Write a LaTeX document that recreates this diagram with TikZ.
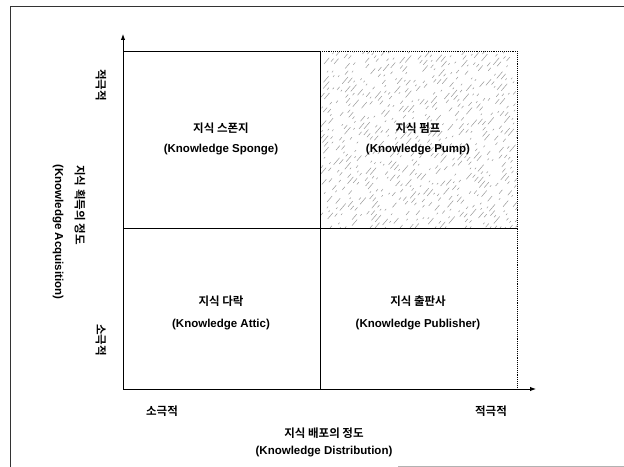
\documentclass[tikz,border=0pt]{standalone}
\usepackage{fontspec}
\setmainfont{Liberation Sans}
\newfontfamily\kr{Noto Sans CJK KR}[BoldFont={Noto Sans CJK KR Bold}]
\usetikzlibrary{arrows.meta}
\begin{document}
\begin{tikzpicture}[x=1bp,y=-1bp,
  lab/.style={font=\kr\bfseries\fontsize{11.5bp}{13bp}\selectfont, inner sep=0pt},
  en/.style={font=\bfseries\fontsize{11.5bp}{13bp}\selectfont, inner sep=0pt},
  grid/.style={line width=0.8bp, black},
  axis/.style={line width=1bp, black, -{Latex[length=6bp,width=4.5bp]}},
  hatchA/.style={gray!80, line width=0.5bp, dash pattern=on 6bp off 4bp on 3bp off 14bp on 2bp off 9bp on 7bp off 20bp},
  hatchB/.style={gray!80, line width=0.5bp, dash pattern=on 3bp off 11bp on 8bp off 5bp on 2bp off 17bp on 5bp off 8bp},
  hatchC/.style={gray!80, line width=0.5bp, dash pattern=on 9bp off 6bp on 2bp off 22bp on 4bp off 4bp},
  frame/.style={line width=1bp, black!80}]
\useasboundingbox (0,0) rectangle (624,467);
% frame
\draw[frame] (624,7) -- (10,7) -- (10,467);
\draw[gray!60, line width=0.8bp] (398,466) -- (624,466);
% key coordinates
\coordinate (o) at (123,389);
\coordinate (ytip) at (123,34);
\coordinate (xtip) at (536,389);
\coordinate (tl) at (123,51);
\coordinate (tm) at (320,51);
\coordinate (tr) at (517,51);
\coordinate (ml) at (123,228);
\coordinate (mm) at (320,228);
\coordinate (mr) at (517,228);
\coordinate (bm) at (320,389);
\coordinate (br) at (517,389);
% hatched quadrant
\begin{scope}
\clip (tm) rectangle (mr);
\foreach \i [count=\n] in {-180,-175,...,200}{
  \pgfmathtruncatemacro\k{mod(\n,3)}
  \pgfmathtruncatemacro\ph{mod(\n*37+mod(\n*\n,17)*13,53)}
  \ifcase\k
    \draw[hatchA, dash phase=\ph bp] (320+\i,228) -- (470+\i,51);
  \or
    \draw[hatchB, dash phase=\ph bp] (320+\i,228) -- (470+\i,51);
  \else
    \draw[hatchC, dash phase=\ph bp] (320+\i,228) -- (470+\i,51);
  \fi}
\end{scope}
\draw[densely dotted, line width=0.9bp] (tm) -- (tr) -- (br);
% grid
\draw[grid] (tl) -- (tm);
\draw[grid] (ml) -- (mr);
\draw[grid] (tm) -- (bm);
% axes
\draw[axis] (o) -- (ytip);
\draw[axis] (o) -- (xtip);
% quadrant labels
\node[lab] (q1k) at (221,128) {지식 스폰지};
\node[en]  (q1e) at (221,150) {(Knowledge Sponge)};
\node[lab] (q2k) at (418,128) {지식 펌프};
\node[en]  (q2e) at (418,150) {(Knowledge Pump)};
\node[lab] (q3k) at (221,301) {지식 다락};
\node[en]  (q3e) at (221,325) {(Knowledge Attic)};
\node[lab] (q4k) at (418,301) {지식 출판사};
\node[en]  (q4e) at (418,325) {(Knowledge Publisher)};
% x axis labels
\node[lab] (xlo) at (162,411) {소극적};
\node[lab] (xhi) at (491,411) {적극적};
\node[lab] (xt) at (324,433) {지식 배포의 정도};
\node[en]  (xe) at (324,452) {(Knowledge Distribution)};
% y axis labels
\node[lab, rotate=-90] (yhi) at (101,85) {적극적};
\node[lab, rotate=-90] (ylo) at (101,340) {소극적};
\node[lab, rotate=-90] (yt) at (80,205) {지식 획득의 정도};
\node[en, rotate=-90] (ye) at (58,232) {(Knowledge Acquisition)};
\end{tikzpicture}
\end{document}
